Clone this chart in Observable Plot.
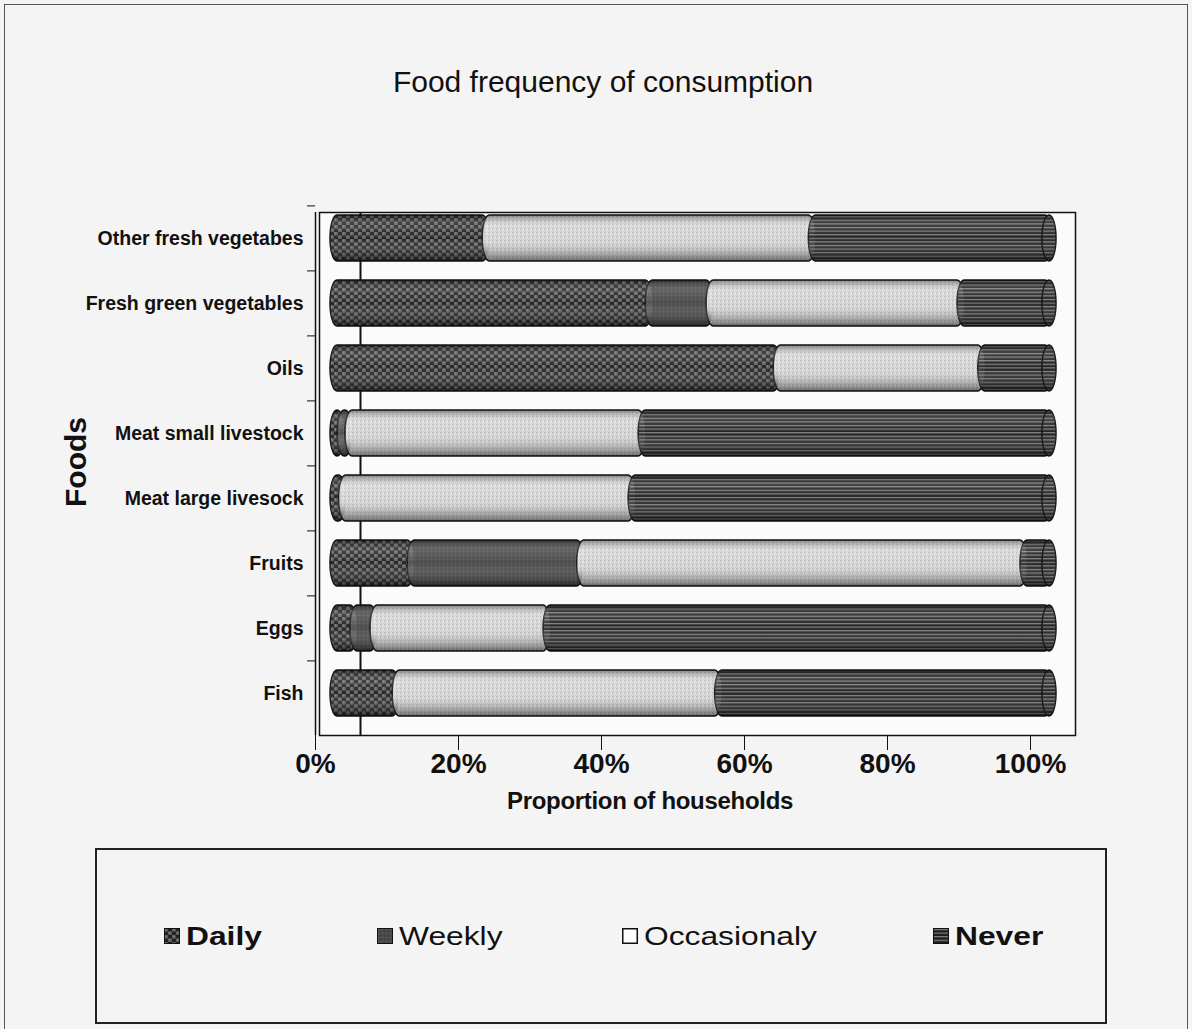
<!DOCTYPE html>
<html><head><meta charset="utf-8">
<script src="https://cdn.jsdelivr.net/npm/d3@7"></script>
<script src="https://cdn.jsdelivr.net/npm/@observablehq/plot@0.6"></script>
<style>
body{margin:0;background:#f4f4f4;font-family:"Liberation Sans",Arial,sans-serif;color:#111;}
#page{position:relative;width:1192px;height:1029px;overflow:hidden;}
#outer{position:absolute;left:4px;top:4px;width:1182px;height:1060px;border:1.5px solid #555;}
#title{position:absolute;left:603px;top:65px;transform:translateX(-50%);font-size:30px;white-space:nowrap;}
#ylab{position:absolute;left:76px;top:462px;transform:translate(-50%,-50%) rotate(-90deg);font-size:30px;font-weight:bold;white-space:nowrap;}
#xlab{position:absolute;left:650px;top:801px;transform:translate(-50%,-50%);font-size:24px;font-weight:bold;white-space:nowrap;letter-spacing:-0.3px;}
#chart{position:absolute;left:0;top:190px;}
#legend{position:absolute;left:95px;top:848px;width:1008px;height:172px;border:2px solid #222;}
.li{position:absolute;top:921px;height:30px;display:flex;align-items:center;}
.li svg{display:block;margin-right:6px;}
.li span{display:inline-block;font-size:25px;transform:scaleX(1.27);transform-origin:left center;white-space:nowrap;}
</style></head><body>
<svg width="0" height="0" style="position:absolute">
<defs>
<pattern id="pDaily" patternUnits="userSpaceOnUse" width="8" height="7">
<rect width="8" height="7" fill="#202020"/>
<circle cx="2" cy="1.75" r="2.2" fill="#5c5c5c"/>
<circle cx="6" cy="5.25" r="2.2" fill="#5c5c5c"/>
<circle cx="1.5" cy="1.2" r="0.8" fill="#8a8a8a"/>
<circle cx="5.5" cy="4.7" r="0.8" fill="#8a8a8a"/>
</pattern>
<pattern id="pWeekly" patternUnits="userSpaceOnUse" width="4" height="4">
<rect width="4" height="4" fill="#4a4a4a"/>
<rect x="1" y="1" width="1" height="1" fill="#606060"/>
<rect x="3" y="3" width="1" height="1" fill="#383838"/>
</pattern>
<pattern id="pOcc" patternUnits="userSpaceOnUse" width="4" height="4">
<rect width="4" height="4" fill="#d3d3d3"/>
<rect x="0" y="0" width="1" height="1" fill="#f2f2f2"/>
<rect x="2" y="2" width="1" height="1" fill="#b0b0b0"/>
<rect x="3" y="0" width="1" height="1" fill="#c0c0c0"/>
<rect x="1" y="3" width="1" height="1" fill="#ececec"/>
</pattern>
<pattern id="pNever" patternUnits="userSpaceOnUse" width="6" height="3.6">
<rect width="6" height="3.6" fill="#1c1c1c"/>
<rect y="1" width="6" height="1.1" fill="#8c8c8c"/>
</pattern>
<linearGradient id="shade" x1="0" y1="0" x2="0" y2="1">
<stop offset="0" stop-color="#000" stop-opacity="0.4"/>
<stop offset="0.22" stop-color="#fff" stop-opacity="0.15"/>
<stop offset="0.5" stop-color="#fff" stop-opacity="0.03"/>
<stop offset="1" stop-color="#000" stop-opacity="0.5"/>
</linearGradient>
</defs>
</svg>
<div id="page">
<div id="outer"></div>
<div id="title">Food frequency of consumption</div>
<div id="ylab">Foods</div>
<div id="chart"></div>
<div id="xlab">Proportion of households</div>
<div id="legend"></div>
<div class="li" style="left:164px"><svg width="16" height="16"><rect x="0.5" y="0.5" width="15" height="15" fill="url(#pDaily)" stroke="#111"/></svg><span style="font-weight:bold">Daily</span></div>
<div class="li" style="left:377px"><svg width="16" height="16"><rect x="0.5" y="0.5" width="15" height="15" fill="url(#pWeekly)" stroke="#111"/></svg><span>Weekly</span></div>
<div class="li" style="left:622px"><svg width="16" height="16"><rect x="0.75" y="0.75" width="14.5" height="14.5" fill="#fff" stroke="#111" stroke-width="1.5"/></svg><span>Occasionaly</span></div>
<div class="li" style="left:933px"><svg width="16" height="16"><rect x="0.5" y="0.5" width="15" height="15" fill="url(#pNever)" stroke="#111"/></svg><span style="font-weight:bold">Never</span></div>
</div>
<script>
// Data (percent of households), top to bottom as in the chart
const foods = ["Other fresh vegetabes", "Fresh green vegetables", "Oils", "Meat small livestock", "Meat large livesock", "Fruits", "Eggs", "Fish"];
const categories = ["Daily", "Weekly", "Occasionaly", "Never"];
const daily      = [21.3, 44.1, 62.0, 1.0, 1.2, 10.8, 2.8, 8.7];
const weekly     = [0,     8.5,  0,   1.1, 0,   23.7, 2.8, 0];
const occasional = [45.6, 35.1, 28.6, 41.0, 40.5, 62.0, 24.2, 45.1];
const never      = [33.1, 12.3,  9.4, 56.9, 58.3, 3.5, 70.2, 46.2];
const xTicks = [0, 0.2, 0.4, 0.6, 0.8, 1];
const fills = ["url(#pDaily)", "url(#pWeekly)", "url(#pOcc)", "url(#pNever)"];

const series = [daily, weekly, occasional, never];
const rows = [];
foods.forEach((f, i) => {
  series.forEach((arr, j) => {
    if (arr[i] > 0) rows.push({food: f, freq: categories[j], value: arr[i] / 100});
  });
});
const totals = foods.map((f, i) => ({food: f, total: series.reduce((s, a) => s + a[i], 0) / 100}));

const seg = {insetLeft: -7, rx: 7, ry: 23, dx: 22};

const plot = Plot.plot({
  width: 1192,
  height: 600,
  marginLeft: 315,
  marginRight: 162,
  marginTop: 22,
  marginBottom: 55,
  style: {background: "transparent", fontFamily: "'Liberation Sans', Arial, sans-serif", color: "#111"},
  x: {domain: [0, 1]},
  y: {domain: foods, range: [15, 537], paddingInner: 0.29, paddingOuter: 0.145},
  color: {type: "ordinal", domain: categories, range: fills},
  marks: [
    Plot.frame({fill: "#fbfbfb", stroke: "#111", strokeWidth: 1.5, insetLeft: 4, insetRight: -45}),
    Plot.ruleX([0], {dx: 45, stroke: "#111", strokeWidth: 2}),
    Plot.ruleX([0], {stroke: "#111", strokeWidth: 1.5}),
    Plot.barX(rows, Plot.stackX({x: "value", y: "food", fill: "freq", stroke: "#111", strokeWidth: 1.5, ...seg})),
    Plot.barX(rows, Plot.stackX({x: "value", y: "food", fill: "url(#shade)", ...seg})),
    Plot.barX(totals, {x1: "total", x2: "total", y: "food", fill: "url(#pNever)", stroke: "#111", strokeWidth: 1.5, insetLeft: -14, rx: 7, ry: 23, dx: 26}),
    Plot.barX(totals, {x1: "total", x2: "total", y: "food", fill: "url(#shade)", insetLeft: -14, rx: 7, ry: 23, dx: 26}),
    Plot.axisY({tickSize: 0, tickPadding: 12, fontSize: 19.5, fontWeight: "bold", label: null}),
    Plot.axisY({tickSize: 8, tickFormat: () => "", dy: -32.6, label: null, stroke: "#111"}),
    Plot.axisX({ticks: xTicks, tickFormat: d3.format(".0%"), tickSize: 15, tickPadding: 3, fontSize: 28, fontWeight: "bold", label: null, stroke: "#111"})
  ]
});
document.getElementById("chart").appendChild(plot);
</script>
</body></html>
